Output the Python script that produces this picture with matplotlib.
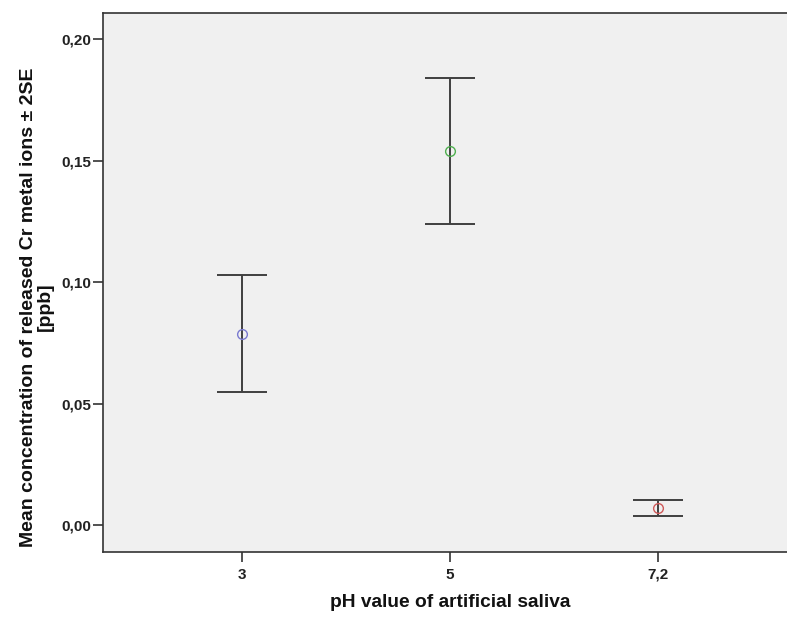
import matplotlib
matplotlib.use("Agg")
import matplotlib.pyplot as plt

# Mean released Cr per saliva pH, with +/- 2SE limits
ph_labels = ["3", "5", "7,2"]
mean_cr = [0.0788, 0.1539, 0.0071]
upper_cr = [0.1028, 0.1838, 0.0103]
lower_cr = [0.0547, 0.1239, 0.0039]
marker_colors = ["#7a7ad0", "#4fb04f", "#d05a5a"]
y_ticks = [0.00, 0.05, 0.10, 0.15, 0.20]

plt.rcParams["font.family"] = ["Liberation Sans", "DejaVu Sans"]
plt.rcParams["font.weight"] = "bold"

fig = plt.figure(figsize=(7.87, 6.17), dpi=100)
fig.patch.set_facecolor("white")
# right edge of the frame runs just past the figure border
ax = fig.add_axes([0.1313, 0.1049, 0.8814, 0.8740])
ax.set_facecolor("#f0f0f0")

xs = list(range(len(ph_labels)))
for x, m, hi, lo, c in zip(xs, mean_cr, upper_cr, lower_cr, marker_colors):
    ax.errorbar(
        x, m, yerr=[[m - lo], [hi - m]], fmt="none",
        ecolor="#404040", elinewidth=1.4, capsize=18, capthick=1.4, zorder=2,
    )
    ax.plot(x, m, marker="o", ms=7, mfc="none", mec=c, mew=1.0, zorder=3)

ax.set_xlim(-0.667, 2.667)
ax.set_ylim(-0.0112, 0.2107)
ax.set_xticks(xs)
ax.set_xticklabels(ph_labels)
ax.set_yticks(y_ticks)
ax.set_yticklabels([f"{v:.2f}".replace(".", ",") for v in y_ticks])

for side in ("left", "bottom", "top", "right"):
    ax.spines[side].set_color("#333333")
    ax.spines[side].set_linewidth(1.2)

ax.tick_params(axis="both", direction="out", length=7, width=1.2,
               color="#333333", labelsize=11, labelcolor="#222222")
ax.tick_params(axis="y", pad=2)
ax.tick_params(axis="x", pad=4)

ax.set_xlabel("pH value of artificial saliva", fontsize=13.75,
              fontweight="bold", color="#111111", labelpad=9)
ax.set_ylabel("Mean concentration of released Cr metal ions \u00b1 2SE\n[ppb]",
              fontsize=14, fontweight="bold", color="#111111",
              linespacing=1.0)
ax.yaxis.set_label_coords(-0.071, 0.455)

fig.savefig("out.png", dpi=100, facecolor=fig.get_facecolor())
